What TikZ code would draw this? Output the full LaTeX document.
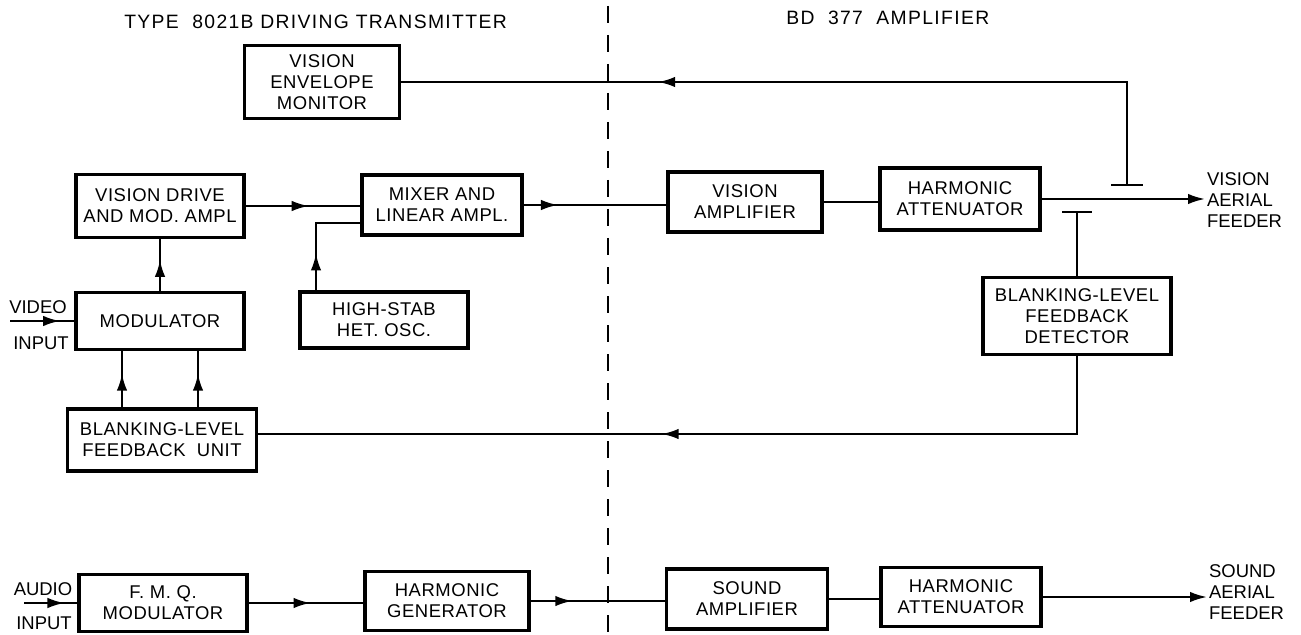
\documentclass[tikz,border=0pt]{standalone}
\usepackage{fontspec}
\setmainfont{Liberation Sans}
\usetikzlibrary{positioning, arrows.meta, calc, decorations.markings}

\begin{document}
\begin{tikzpicture}[
  x=0.2mm, y=-0.2mm,
  >={Latex[length=3.4mm, width=2.1mm]},
  block/.style={rectangle, draw, line width=2pt, inner sep=0pt, align=center,
                font=\fontsize{10.5}{12}\selectfont\addfontfeature{LetterSpace=3}},
  head/.style={inner sep=0pt, anchor=west,
               font=\fontsize{11}{12}\selectfont\addfontfeature{LetterSpace=7}},
  txt/.style={inner sep=1pt, align=left,
              font=\fontsize{10.5}{12}\selectfont},
  link/.style={line width=1.3pt},
  flow/.style={link, postaction={decorate},
               decoration={markings, mark=at position #1 with {\arrow{>}}}},
  bar/.style={line width=1.3pt},
  divider/.style={line width=1.2pt, dash pattern=on 3.4mm off 2.4mm},
]
\useasboundingbox (0,0) rectangle (1301,635);

\node[head] at (124,22) (ttx) {TYPE\ \ 8021B DRIVING TRANSMITTER};
\node[head] at (786,18) (tamp) {BD\ \ 377\ \ AMPLIFIER};

\node[block, minimum width=31mm, minimum height=14.6mm]   at (322,82)   (envmon)  {VISION\\ENVELOPE\\MONITOR};
\node[block, minimum width=33.6mm, minimum height=12.6mm] at (160,206)  (drive)   {VISION DRIVE\\AND MOD. AMPL};
\node[block, minimum width=32mm, minimum height=12mm]     at (442,205)  (mixer)   {MIXER AND\\LINEAR AMPL.};
\node[block, minimum width=33.6mm, minimum height=11.2mm] at (384,320)  (hetosc)  {HIGH-STAB\\HET. OSC.};
\node[block, minimum width=33.6mm, minimum height=11.4mm] at (160,321)  (modul)   {MODULATOR};
\node[block, minimum width=37.8mm, minimum height=12.4mm] at (162,440)  (fbunit)  {BLANKING-LEVEL\\FEEDBACK\ \ UNIT};
\node[block, minimum width=30.8mm, minimum height=12mm]   at (745,202)  (visamp)  {VISION\\AMPLIFIER};
\node[block, minimum width=32mm, minimum height=12.4mm]   at (960,199)  (visharm) {HARMONIC\\ATTENUATOR};
\node[block, minimum width=37.6mm, minimum height=15.4mm] at (1077,316) (fbdet)   {BLANKING-LEVEL\\FEEDBACK\\DETECTOR};

\node[block, minimum width=33.6mm, minimum height=11.4mm] at (163,603)  (fmq)     {F. M. Q.\\MODULATOR};
\node[block, minimum width=32.8mm, minimum height=11.8mm] at (447,601)  (harmgen) {HARMONIC\\GENERATOR};
\node[block, minimum width=32.2mm, minimum height=12mm]   at (747,599)  (sndamp)  {SOUND\\AMPLIFIER};
\node[block, minimum width=32mm, minimum height=11.8mm]   at (961,597)  (sndharm) {HARMONIC\\ATTENUATOR};

\node[txt] at (38,307) (vidtxt) {VIDEO};
\node[txt] at (41,343) (vidin)  {INPUT};
\node[txt] at (43,589) (audtxt) {AUDIO};
\node[txt] at (44,623) (audin)  {INPUT};
\node[txt, anchor=west] at (1205,200) (visfeed) {VISION\\AERIAL\\FEEDER};
\node[txt, anchor=west] at (1207,592) (sndfeed) {SOUND\\AERIAL\\FEEDER};

\coordinate (vidsrc) at (10,321);
\coordinate (audsrc) at (24,603);
\coordinate (envtap) at (1127,185);
\coordinate (dettap) at (1077,212);
\coordinate (divtop) at (608,6);
\coordinate (divbot) at (608,640);

\draw[divider] (divtop) -- (divbot);

\draw[flow=0.78] (vidsrc) -- (modul.west);
\draw[flow=0.6] (modul.north) -- (drive.south);
\draw[flow=0.6] ([xshift=-8mm]fbunit.north) -- ([xshift=-8mm]fbunit.north |- modul.south);
\draw[flow=0.6] ([xshift=7.2mm]fbunit.north) -- ([xshift=7.2mm]fbunit.north |- modul.south);
\draw[flow=0.55] (drive.east) -- (drive.east -| mixer.west);
\draw[flow=0.33] ([xshift=-13.6mm]hetosc.north) |- ([yshift=-3.6mm]mixer.west);
\draw[flow=0.24] (mixer.east) -- (mixer.east -| visamp.west);
\draw[link] (visamp.east) -- (visamp.east -| visharm.west);
\draw[link, ->] (visharm.east) -- (visharm.east -| visfeed.west);
\draw[bar] ([xshift=-3.2mm]envtap) -- ([xshift=3.2mm]envtap);
\draw[flow=0.69] (envtap) |- (envmon.east);
\draw[bar] ([xshift=-3mm]dettap) -- ([xshift=3mm]dettap);
\draw[link] (dettap) -- (fbdet.north);
\draw[flow=0.55] (fbdet.south) |- ([yshift=1.2mm]fbunit.east);

\draw[flow=0.76] (audsrc) -- (fmq.west);
\draw[flow=0.54] (fmq.east) -- (fmq.east -| harmgen.west);
\draw[flow=0.31] (harmgen.east) -- (harmgen.east -| sndamp.west);
\draw[link] (sndamp.east) -- (sndamp.east -| sndharm.west);
\draw[link, ->] (sndharm.east) -- (sndharm.east -| sndfeed.west);
\end{tikzpicture}
\end{document}
